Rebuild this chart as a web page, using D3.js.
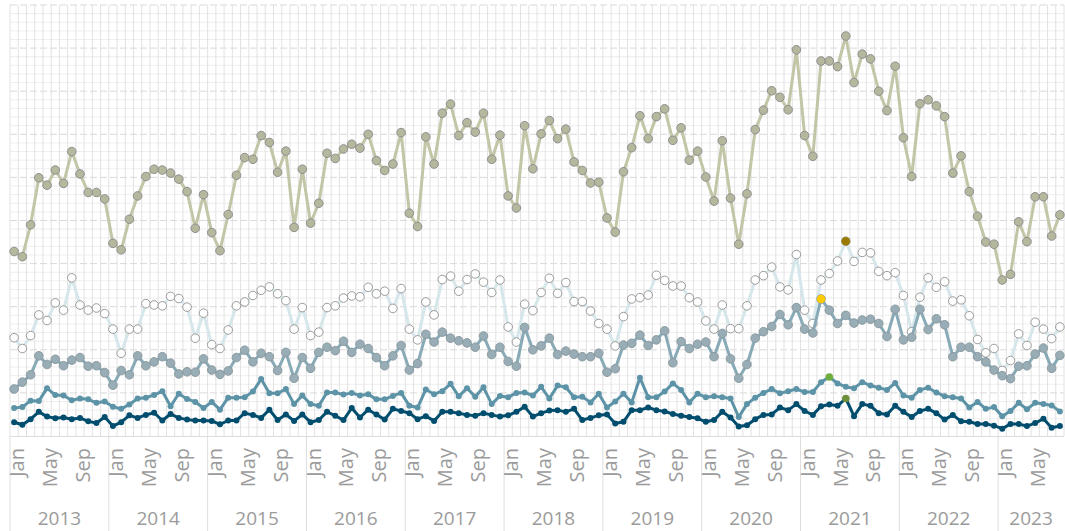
<!DOCTYPE html>
<html>
<head>
<meta charset="utf-8">
<script src="https://cdn.jsdelivr.net/npm/d3@7"></script>
<style>
  body { margin: 0; background: #fff; }
  svg { display: block; }
</style>
</head>
<body>
<div id="chart"></div>
<script>
const width = 1065;
const height = 531;

// Monthly categories: Jan 2013 .. Aug 2023
const firstMonth = new Date(2013, 0, 1);
const monthCount = 128;
const tickMonths = ["Jan", "May", "Sep"];
const years = [2013, 2014, 2015, 2016, 2017, 2018, 2019, 2020, 2021, 2022, 2023];

// Series values
const seriesA = [42.8,41.6,49.0,59.9,58.2,61.7,58.6,66.0,60.8,56.5,56.5,55.0,
  44.7,43.2,50.3,55.7,60.2,61.9,61.7,61.0,59.6,56.7,48.2,56.0,
  47.2,43.0,51.4,60.5,64.6,64.2,69.7,68.1,61.2,66.1,48.4,61.9,
  49.4,54.0,65.6,64.4,66.6,67.7,66.8,70.0,63.9,61.6,63.1,70.4,
  51.7,48.6,69.4,63.1,74.9,77.0,69.7,72.7,70.5,74.9,64.2,69.8,
  55.7,52.9,72.0,62.0,70.1,73.2,69.0,71.2,63.6,61.6,58.7,58.9,
  50.6,47.3,61.3,66.9,74.3,69.0,74.1,75.9,68.6,71.5,64.0,66.1,
  60.1,54.5,68.5,55.2,44.5,56.2,71.1,75.6,80.1,78.6,75.7,89.6,
  69.7,64.9,87.0,87.0,85.7,92.8,82.0,88.6,87.5,80.0,75.5,85.8,
  69.2,60.2,77.1,78.0,76.6,74.1,61.0,65.0,56.7,51.0,45.0,44.5,
  36.2,37.5,49.7,45.1,55.5,55.5,46.4,51.3];
const seriesB = [22.8,20.3,23.3,28.1,26.8,30.9,29.2,36.7,30.4,29.2,29.7,28.4,
  24.8,19.2,24.8,24.8,30.7,30.4,30.2,32.4,31.9,29.9,22.7,28.5,
  21.2,20.3,24.6,30.2,31.1,32.6,33.8,34.6,33.0,31.4,24.8,29.8,
  23.3,24.1,29.8,30.2,32.0,32.5,32.3,34.5,33.0,33.6,29.6,34.2,
  24.8,22.3,31.1,28.1,36.3,37.1,33.6,36.3,37.6,35.7,33.3,36.2,
  25.3,21.8,30.6,29.1,33.3,36.6,33.1,35.6,31.2,31.2,29.0,26.1,
  24.8,20.9,27.7,31.8,32.1,32.7,37.3,36.1,34.8,34.8,32.1,31.1,
  26.7,24.8,30.4,24.9,24.9,30.2,36.2,37.2,39.2,34.6,33.9,42.1,
  29.2,26.1,36.2,37.7,40.6,45.2,40.5,42.6,42.5,38.2,37.2,37.9,
  32.6,24.2,32.2,36.7,34.5,35.8,31.3,31.6,27.9,22.4,19.3,20.3,
  15.2,17.5,23.7,21.0,26.4,24.8,22.6,25.3];
const seriesC = [10.9,12.5,14.2,18.6,16.6,17.8,16.3,17.6,18.2,16.2,16.3,14.7,
  11.8,15.2,14.2,18.6,16.3,17.2,18.4,16.9,14.4,14.9,14.8,17.9,
  15.3,14.3,15.1,18.2,19.9,17.2,19.2,18.4,15.2,19.4,13.4,18.2,
  15.7,19.4,20.6,19.8,22.0,19.4,21.3,20.3,18.2,16.3,18.6,21.0,
  15.3,16.8,23.6,21.8,24.1,22.7,22.1,21.6,20.6,23.2,18.9,20.6,
  17.3,16.2,25.2,20.0,20.9,22.7,18.9,19.7,19.0,18.4,18.4,19.2,
  14.8,15.6,21.1,21.5,23.4,21.0,22.3,24.4,17.0,21.9,20.3,21.3,
  21.8,18.4,23.8,17.9,13.4,16.6,22.7,24.2,25.4,28.2,25.8,29.8,
  24.8,23.9,31.8,29.2,26.1,28.0,26.2,26.9,27.1,26.1,23.1,29.4,
  22.3,22.9,29.4,24.7,27.2,25.8,18.4,20.6,20.6,18.4,17.2,15.3,
  14.0,13.3,16.2,16.3,19.0,20.4,15.7,18.7];
const seriesD = [6.5,6.7,8.2,8.1,11.1,9.5,9.4,8.3,8.7,8.5,7.7,8.0,
  6.8,6.3,7.3,8.7,8.9,9.5,10.4,6.9,9.8,8.6,7.9,6.5,
  7.9,6.1,8.9,8.9,9.0,10.3,13.2,9.9,9.9,10.9,7.4,9.4,
  7.4,7.0,10.1,10.1,9.6,10.0,9.4,9.7,8.5,8.5,9.3,10.0,
  7.0,6.6,10.8,9.7,10.4,12.1,9.2,11.1,9.1,11.3,7.4,9.3,
  9.0,10.0,10.1,9.4,11.4,8.7,11.7,11.3,9.0,9.1,7.8,9.8,
  6.6,8.0,9.8,7.8,13.5,9.0,9.0,10.3,12.2,10.7,7.8,9.8,
  9.0,9.2,9.0,8.7,4.4,7.4,8.9,10.0,10.9,9.9,10.4,10.9,
  10.2,10.2,12.5,13.7,12.2,11.4,11.1,12.5,11.7,11.2,10.7,12.3,
  9.4,8.9,10.7,11.2,10.1,9.2,9.0,8.7,6.6,7.9,6.3,6.7,
  4.6,5.8,7.7,6.2,7.7,7.4,7.1,5.7];
const seriesE = [3.2,2.6,3.9,5.6,4.5,4.1,4.3,3.9,4.2,3.4,3.0,4.4,
  2.3,3.2,4.8,4.2,4.9,5.4,3.6,5.1,4.2,3.8,3.6,3.6,
  3.5,2.7,3.6,3.6,5.3,4.9,4.2,6.1,3.7,5.0,3.5,5.0,
  3.2,3.7,5.6,4.7,3.7,6.5,4.3,6.1,5.0,3.8,6.3,5.8,
  5.3,3.9,4.6,3.5,5.6,5.6,5.3,4.9,4.7,5.3,4.9,4.5,
  4.8,5.6,6.8,4.5,5.3,5.9,6.0,5.6,6.3,3.7,4.2,4.8,
  5.0,2.9,3.3,6.0,6.0,6.6,6.0,5.7,5.1,4.7,4.4,4.1,
  3.3,3.7,5.6,4.3,2.2,2.5,3.9,4.9,5.0,6.6,6.0,7.4,
  5.8,4.9,6.9,7.3,7.0,8.7,4.6,7.4,7.0,5.3,5.0,7.0,
  5.6,4.4,5.8,6.3,5.3,3.8,4.9,3.4,3.3,2.8,2.8,2.4,
  1.7,2.8,2.8,2.3,3.0,4.0,1.9,2.3];

// Highlighted points: [series index, month index, colour]
const highlights = [[1, 101, "#9a7a00"], [2, 98, "#ffcc00"], [3, 99, "#6fae3e"], [4, 101, "#6f8f3a"]];

const months = d3.range(monthCount).map(i => d3.timeMonth.offset(firstMonth, i));

const plotLeft = 10, plotRight = 1064, plotTop = 5, plotBottom = 436;

const x = d3.scaleBand().domain(d3.range(monthCount)).range([plotLeft, plotRight]).padding(0);
const y = d3.scaleLinear().domain([0, 100]).range([plotBottom, plotTop]);
const cx = i => x(i) + x.bandwidth() / 2;

const svg = d3.create("svg").attr("width", width).attr("height", height);

// --- grid ---
const grid = svg.append("g");
grid.selectAll(".minor")
  .data(d3.range(0, 101, 2).filter(v => v % 10 !== 0))
  .join("line")
  .attr("x1", plotLeft).attr("x2", plotRight)
  .attr("y1", d => y(d)).attr("y2", d => y(d))
  .attr("stroke", "#eeeeee").attr("stroke-width", 1);

grid.selectAll(".vline")
  .data(d3.range(monthCount + 1))
  .join("line")
  .attr("x1", d => plotLeft + d * x.step()).attr("x2", d => plotLeft + d * x.step())
  .attr("y1", plotTop).attr("y2", plotBottom)
  .attr("stroke", "#e2e2e2").attr("stroke-width", 1);

grid.selectAll(".major")
  .data(d3.range(10, 101, 10))
  .join("line")
  .attr("x1", plotLeft).attr("x2", plotRight)
  .attr("y1", d => y(d)).attr("y2", d => y(d))
  .attr("stroke", "#d9d9d9").attr("stroke-width", 1)
  .attr("stroke-dasharray", "7,3");

grid.append("line")
  .attr("x1", plotLeft).attr("x2", plotRight)
  .attr("y1", plotBottom + 0.5).attr("y2", plotBottom + 0.5)
  .attr("stroke", "#dcdcdc");

// --- x axis: months and years ---
const axis = svg.append("g");
const yearStart = yr => months.findIndex(m => m.getFullYear() === yr);
const yearEnd = yr => {
  const idx = months.map((m, i) => m.getFullYear() === yr ? i : -1).filter(i => i >= 0);
  return idx[idx.length - 1] + 1;
};

axis.selectAll(".ysep")
  .data(years)
  .join("line")
  .attr("x1", d => plotLeft + yearStart(d) * x.step()).attr("x2", d => plotLeft + yearStart(d) * x.step())
  .attr("y1", plotBottom).attr("y2", height)
  .attr("stroke", "#dedede");

axis.selectAll(".mlabel")
  .data(d3.range(monthCount).filter(i => tickMonths.includes(d3.timeFormat("%b")(months[i]))))
  .join("text")
  .attr("transform", d => `translate(${cx(d)},448) rotate(-90)`)
  .attr("dy", "0.5em")
  .attr("text-anchor", "end")
  .attr("font-family", "'Open Sans', sans-serif")
  .attr("font-size", 20)
  .attr("fill", "#9b9b9b")
  .text(d => d3.timeFormat("%b")(months[d]));

axis.selectAll(".ylabel")
  .data(years)
  .join("text")
  .attr("x", d => plotLeft + (yearStart(d) + yearEnd(d)) / 2 * x.step())
  .attr("y", 525)
  .attr("text-anchor", "middle")
  .attr("font-family", "'Open Sans', sans-serif")
  .attr("font-size", 19)
  .attr("fill", "#9b9b9b")
  .text(d => d);

// --- series ---
const series = [
  { values: seriesA, line: "#c3c5a7", fill: "#b6b89e", stroke: "#8e8e8e", r: 4.3 },
  { values: seriesB, line: "#d6e7eb", fill: "#ffffff", stroke: "#9a9a9a", r: 4.3 },
  { values: seriesC, line: "#88aab7", fill: "#98adb5", stroke: "#8b9ba1", r: 4.3 },
  { values: seriesD, line: "#5c93a7", fill: "#5c93a7", stroke: "none", r: 3 },
  { values: seriesE, line: "#004d6e", fill: "#004d6e", stroke: "none", r: 3 }
];

const line = d3.line().x((d, i) => cx(i)).y(d => y(d));

series.forEach(s => {
  const g = svg.append("g");
  g.append("path")
    .datum(s.values)
    .attr("fill", "none")
    .attr("stroke", s.line)
    .attr("stroke-width", 3)
    .attr("stroke-linejoin", "round")
    .attr("d", line);
  g.selectAll("circle")
    .data(s.values)
    .join("circle")
    .attr("cx", (d, i) => cx(i))
    .attr("cy", d => y(d))
    .attr("r", s.r)
    .attr("fill", s.fill)
    .attr("stroke", s.stroke)
    .attr("stroke-width", 1);
});

svg.append("g")
  .selectAll("circle")
  .data(highlights)
  .join("circle")
  .attr("cx", d => cx(d[1]))
  .attr("cy", d => y(series[d[0]].values[d[1]]))
  .attr("r", d => d[0] >= 3 ? 3.8 : 4.3)
  .attr("fill", d => d[2]);

document.querySelector("#chart").appendChild(svg.node());
</script>
</body>
</html>
